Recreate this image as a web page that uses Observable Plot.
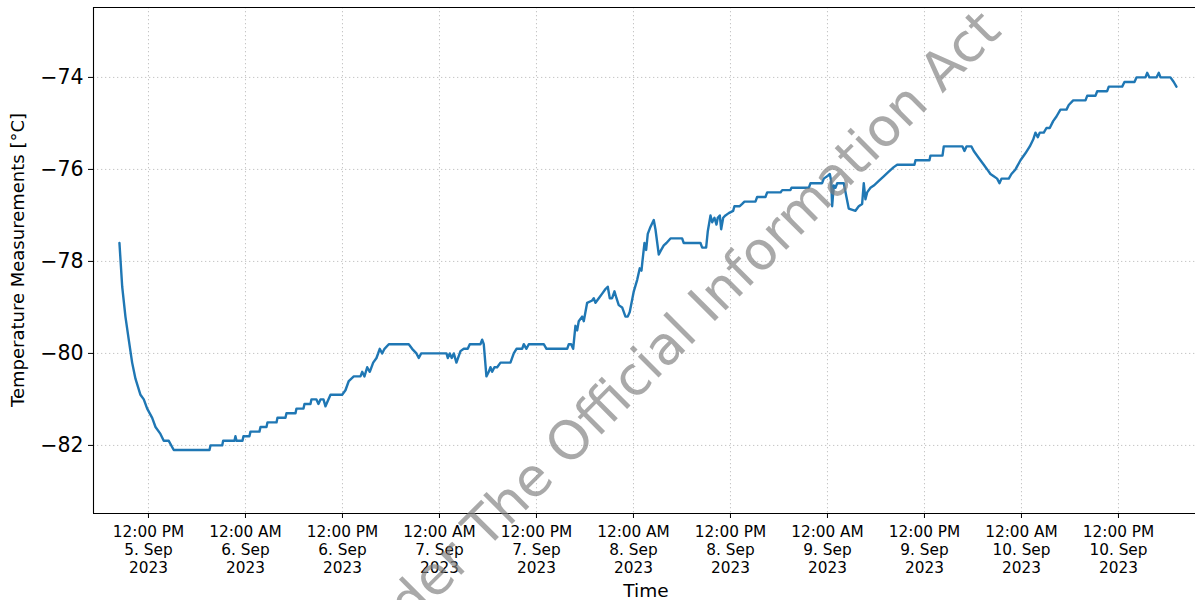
<!DOCTYPE html>
<html><head><meta charset="utf-8">
<script src="https://cdn.jsdelivr.net/npm/d3@7"></script>
<script src="https://cdn.jsdelivr.net/npm/@observablehq/plot@0.6"></script>
<style>
body{margin:0;background:#fff;}
#chart svg{display:block;}
</style></head><body><div id="chart"></div>
<script>
// elapsed hours since 2023-09-05 00:00
const startDate = Date.UTC(2023, 8, 5, 0, 0);
const hours = [8.41,8.75,9.15,9.56,9.98,10.39,11.01,11.42,11.84,12.46,12.87,13.48,13.89,14.51,15.13,19.55,19.67,21.12,21.24,22.64,22.76,22.89,23.63,23.75,24.49,24.62,25.73,25.86,26.60,26.72,27.84,27.96,28.95,29.07,30.19,30.31,31.18,31.30,32.04,32.16,32.78,33.03,33.28,33.65,33.90,34.14,34.52,35.96,36.37,36.78,37.40,38.23,38.44,38.72,39.06,39.38,39.80,40.21,40.61,40.91,41.20,41.73,44.20,44.62,45.15,45.44,45.74,48.87,49.03,49.27,49.52,49.77,50.10,50.60,51.01,51.50,51.75,53.07,53.28,53.48,53.81,54.10,54.31,54.52,54.80,55.14,55.55,56.78,57.19,57.53,58.23,58.43,58.76,59.05,60.90,61.24,63.80,64.00,64.29,64.54,64.82,65.03,65.23,65.65,65.85,66.27,66.89,67.09,67.30,67.71,68.13,68.54,68.82,69.07,69.36,69.65,69.90,70.18,70.60,71.01,71.29,71.54,72.04,72.46,72.78,72.99,73.11,73.36,73.57,73.77,74.10,74.51,74.72,75.13,75.43,75.75,76.08,76.58,78.02,78.22,80.29,80.50,80.99,81.19,81.53,81.74,82.02,82.27,82.43,82.68,82.85,83.10,83.38,83.79,84.33,84.49,85.15,85.45,85.73,87.09,87.30,88.33,88.54,90.19,90.40,91.42,91.55,93.69,93.90,95.34,95.54,95.96,96.29,96.46,96.58,96.78,96.99,97.20,98.02,98.35,98.63,99.46,99.87,100.29,100.49,100.70,100.91,101.32,101.73,102.35,102.96,103.58,104.20,104.62,106.76,106.89,108.62,108.74,110.23,110.39,112.70,112.95,113.20,113.81,114.10,114.72,115.34,115.76,116.16,116.57,116.99,117.28,117.53,118.43,118.76,119.26,119.88,120.49,121.03,121.45,121.73,122.02,122.26,122.76,123.09,123.50,123.92,124.33,124.82,125.57,125.85,126.40,127.92,128.13,129.15,129.37,130.60,130.80,132.46,132.74,133.98,134.23,135.34,135.55,135.83,136.70,136.99,137.20,138.43,138.84,139.17];
const temps = [-77.6,-78.55,-79.2,-79.7,-80.2,-80.55,-80.9,-81.0,-81.2,-81.4,-81.6,-81.75,-81.9,-81.9,-82.1,-82.1,-82.0,-82.0,-81.9,-81.9,-81.8,-81.9,-81.9,-81.8,-81.8,-81.7,-81.7,-81.6,-81.6,-81.5,-81.5,-81.4,-81.4,-81.3,-81.3,-81.2,-81.2,-81.1,-81.1,-81.0,-81.0,-81.1,-81.0,-81.0,-81.15,-81.05,-80.9,-80.9,-80.8,-80.6,-80.5,-80.5,-80.4,-80.5,-80.3,-80.4,-80.2,-80.1,-79.9,-80.0,-79.9,-79.8,-79.8,-79.9,-80.0,-80.1,-80.0,-80.0,-80.1,-80.0,-80.1,-80.0,-80.2,-79.95,-79.9,-79.9,-79.8,-79.8,-79.7,-79.8,-80.5,-80.4,-80.3,-80.4,-80.3,-80.3,-80.2,-80.2,-80.0,-79.9,-79.9,-79.8,-79.9,-79.8,-79.8,-79.9,-79.9,-79.8,-79.8,-79.9,-79.4,-79.5,-79.3,-79.2,-79.3,-78.9,-78.85,-78.8,-78.9,-78.8,-78.7,-78.6,-78.55,-78.8,-78.8,-78.65,-78.8,-78.95,-79.0,-79.2,-79.2,-79.1,-78.65,-78.4,-78.15,-78.2,-78.0,-77.6,-77.75,-77.4,-77.25,-77.1,-77.3,-77.85,-77.75,-77.65,-77.6,-77.5,-77.5,-77.6,-77.6,-77.7,-77.7,-77.35,-77.0,-77.15,-77.05,-77.2,-77.05,-77.0,-77.3,-77.05,-77.0,-76.95,-76.9,-76.8,-76.8,-76.75,-76.7,-76.7,-76.6,-76.6,-76.5,-76.5,-76.45,-76.45,-76.4,-76.4,-76.3,-76.3,-76.2,-76.15,-76.1,-76.25,-76.8,-76.35,-76.4,-76.3,-76.3,-76.6,-76.85,-76.9,-76.8,-76.75,-76.3,-76.65,-76.5,-76.4,-76.35,-76.25,-76.15,-76.05,-75.95,-75.9,-75.9,-75.8,-75.8,-75.7,-75.7,-75.5,-75.5,-75.6,-75.5,-75.5,-75.6,-75.75,-75.9,-76.0,-76.1,-76.15,-76.2,-76.3,-76.2,-76.2,-76.1,-76.0,-75.8,-75.65,-75.5,-75.35,-75.2,-75.3,-75.2,-75.2,-75.1,-75.1,-74.95,-74.85,-74.7,-74.7,-74.6,-74.5,-74.5,-74.4,-74.4,-74.3,-74.3,-74.2,-74.2,-74.1,-74.1,-74.0,-74.0,-73.9,-74.0,-74.0,-73.9,-74.0,-74.0,-74.1,-74.2];

const yTicks = [-82, -80, -78, -76, -74];
const xTickHours = [12, 24, 36, 48, 60, 72, 84, 96, 108, 120, 132];
const xTickLabels = [
  "12:00 PM\n5. Sep\n2023", "12:00 AM\n6. Sep\n2023", "12:00 PM\n6. Sep\n2023",
  "12:00 AM\n7. Sep\n2023", "12:00 PM\n7. Sep\n2023", "12:00 AM\n8. Sep\n2023",
  "12:00 PM\n8. Sep\n2023", "12:00 AM\n9. Sep\n2023", "12:00 PM\n9. Sep\n2023",
  "12:00 AM\n10. Sep\n2023", "12:00 PM\n10. Sep\n2023"
];
const xDomainHours = [5.2, 141.53];
const yDomain = [-83.48, -72.48];
const xLabel = "Time";
const yLabel = "Temperature Measurements [°C]";
const watermark = "Released Under The Official Information Act";

const toDate = h => new Date(startDate + h * 3600e3);
const data = hours.map((h, i) => ({t: toDate(h), v: temps[i]}));
const tickDates = xTickHours.map(toDate);
const labelByTime = new Map(tickDates.map((d, i) => [d.getTime(), xTickLabels[i]]));
const xDomain = xDomainHours.map(toDate);
const font = "DejaVu Sans, sans-serif";

const plot = Plot.plot({
  width: 1195, height: 600,
  marginLeft: 93, marginRight: 0, marginTop: 7, marginBottom: 87,
  style: {fontFamily: font, background: "white", color: "black"},
  x: {type: "utc", domain: xDomain},
  y: {domain: yDomain},
  marks: [
    Plot.gridX(tickDates, {stroke: "#c4c4c4", strokeOpacity: 1, strokeWidth: 1, strokeDasharray: "1.3,2.7"}),
    Plot.gridY(yTicks, {stroke: "#c4c4c4", strokeOpacity: 1, strokeWidth: 1, strokeDasharray: "1.3,2.7"}),
    Plot.line(data, {x: "t", y: "v", stroke: "#1f77b4", strokeWidth: 2.4}),
    Plot.ruleY([yDomain[0], yDomain[1]], {stroke: "black", strokeWidth: 1.1}),
    Plot.ruleX([xDomain[0]], {stroke: "black", strokeWidth: 1.1}),
    Plot.axisX(tickDates, {tickSize: 5, tickPadding: 5, fontSize: 15.3, lineHeight: 1.2,
      tickFormat: d => labelByTime.get(d.getTime()), label: null}),
    Plot.axisY(yTicks, {tickSize: 5, tickPadding: 5, fontSize: 20.5,
      tickFormat: d => "\u2212" + Math.abs(d), label: null})
  ]
});
document.getElementById("chart").appendChild(plot);

const svg = d3.select(plot);
svg.append("text").attr("x", 646).attr("y", 597).attr("text-anchor", "middle")
  .attr("font-family", font).attr("font-size", 18.5).attr("fill", "black").text(xLabel);
svg.append("text").attr("transform", "translate(24,260) rotate(-90)").attr("text-anchor", "middle")
  .attr("font-family", font).attr("font-size", 18).attr("fill", "black").text(yLabel);
svg.append("text").attr("transform", "translate(589,447) rotate(-45)").attr("text-anchor", "middle")
  .attr("font-family", font).attr("font-size", 53.5).attr("fill", "#808080").attr("fill-opacity", 0.68)
  .text(watermark);
</script></body></html>
